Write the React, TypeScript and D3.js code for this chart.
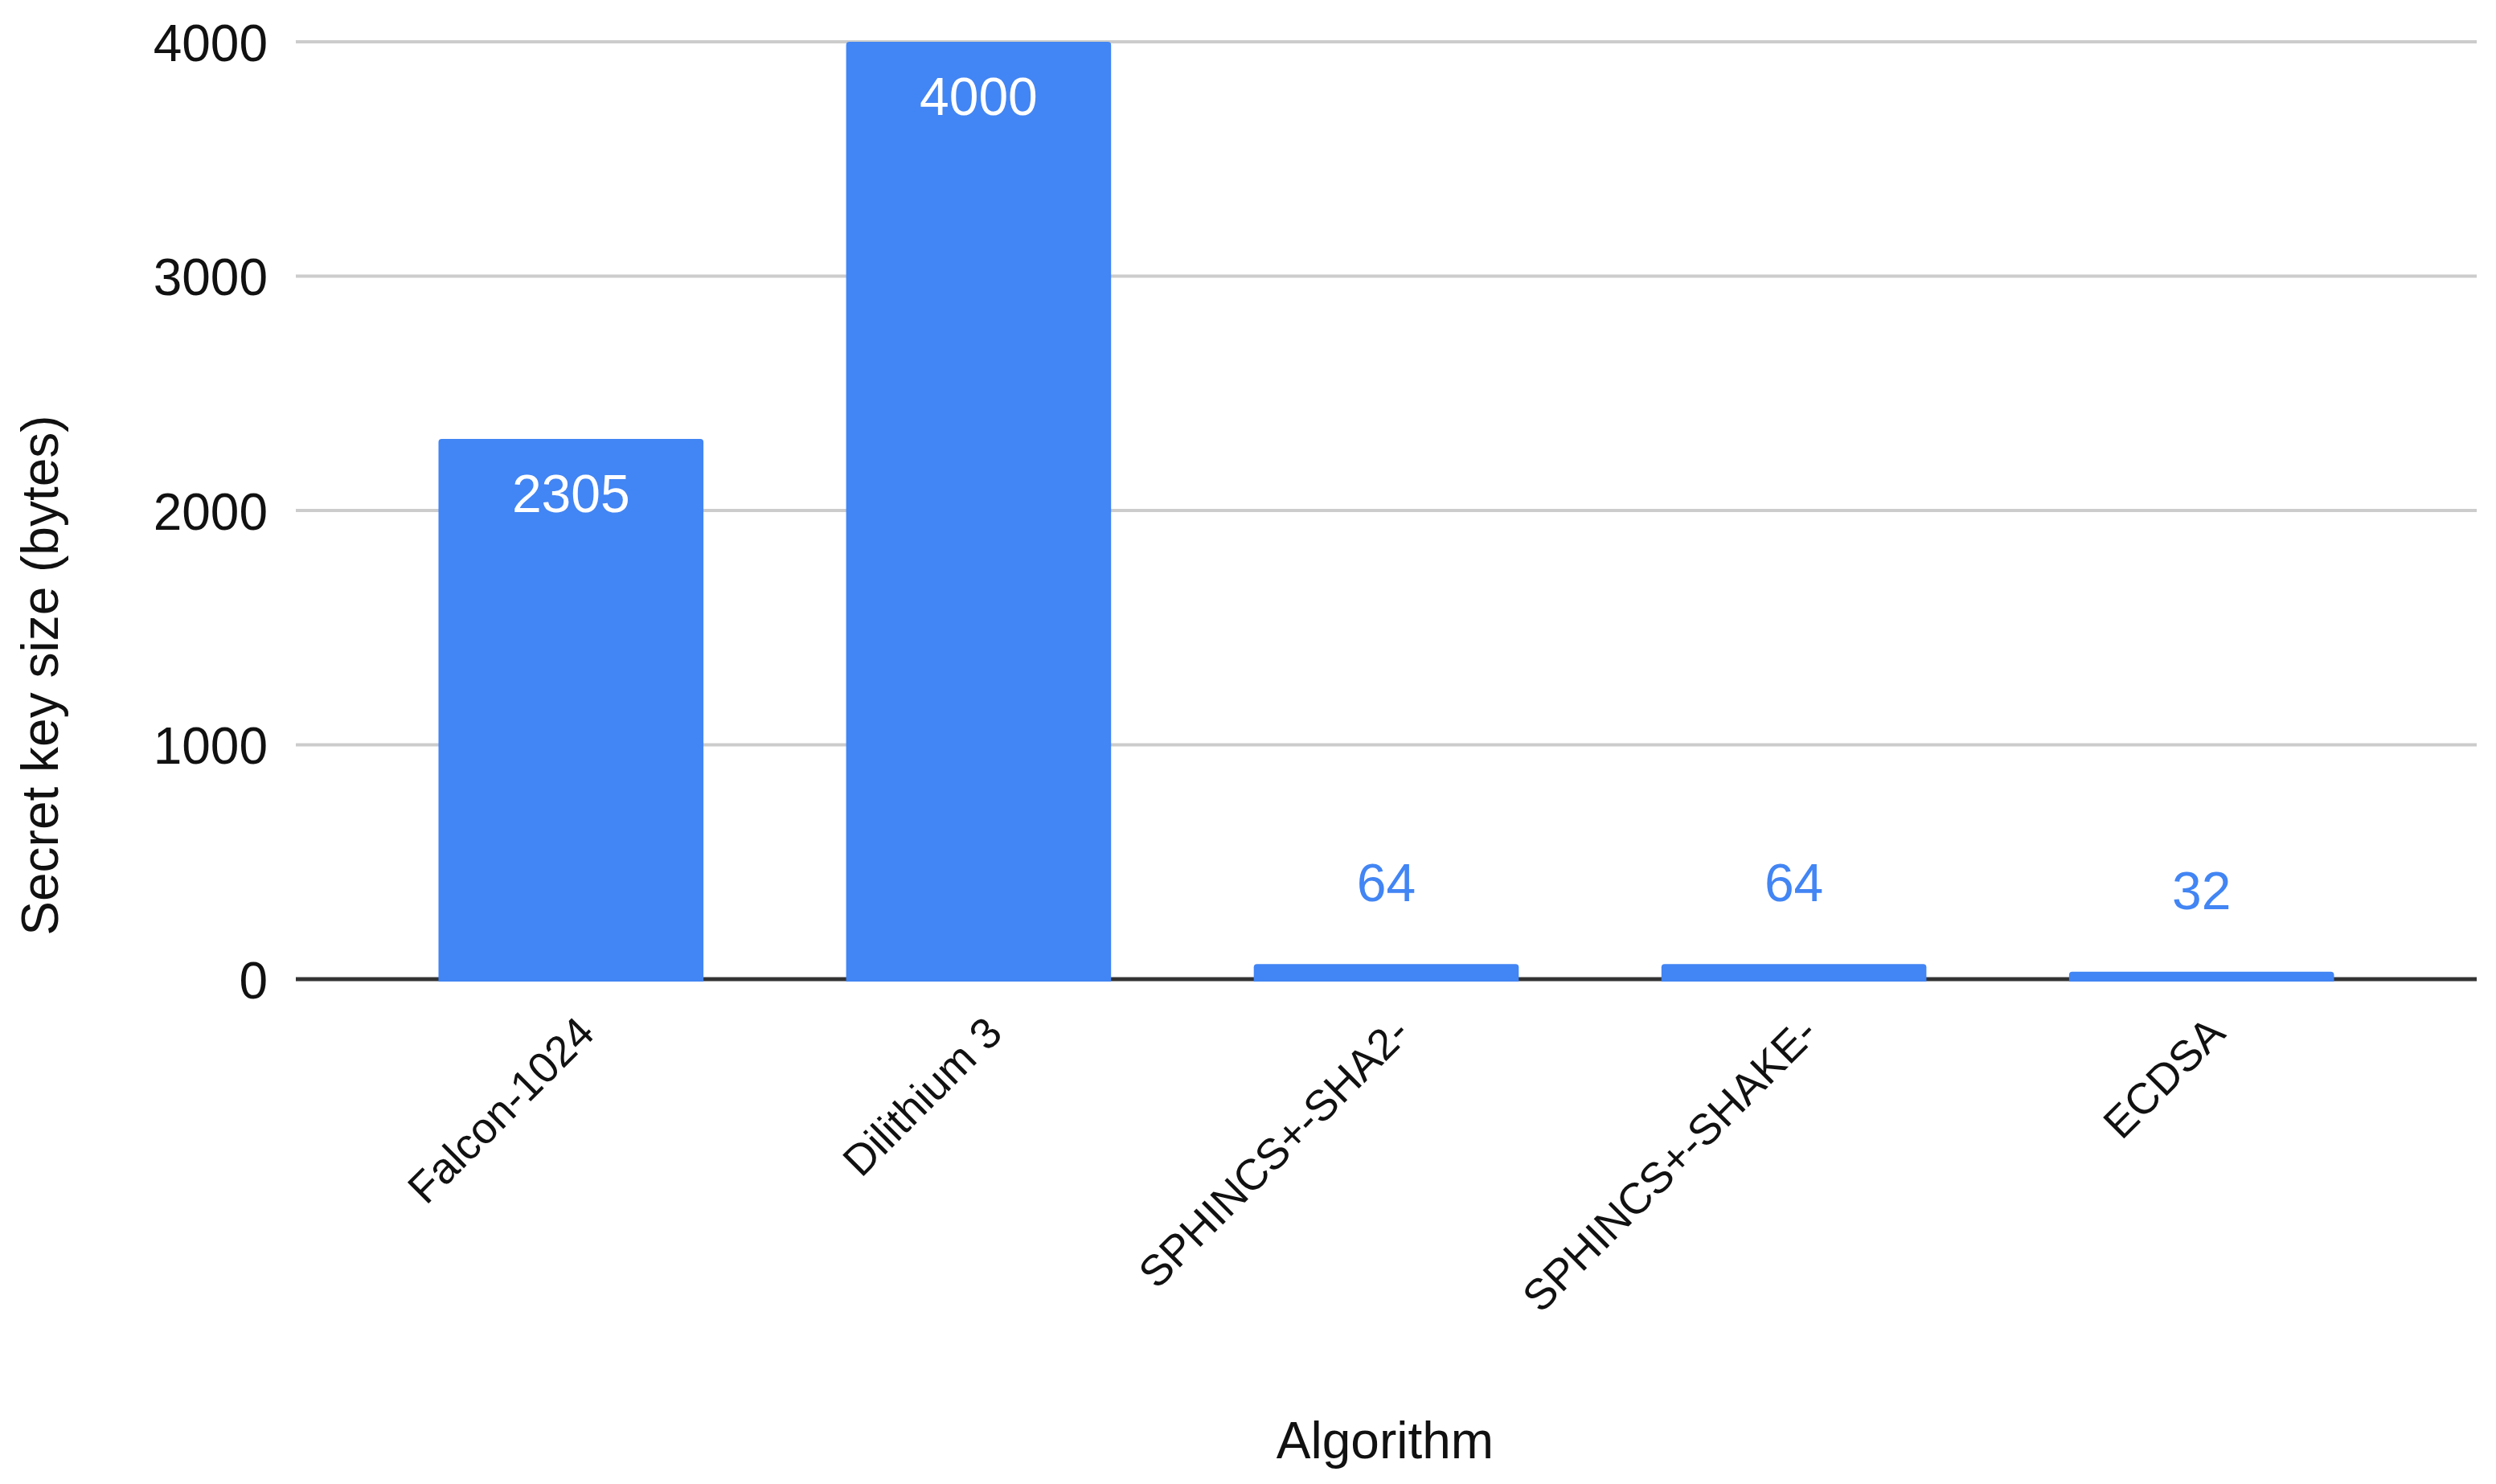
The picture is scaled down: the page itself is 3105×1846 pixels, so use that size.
import React, { useRef, useEffect } from 'react';
import * as d3 from 'd3';

const algorithms = ['Falcon-1024', 'Dilithium 3', 'SPHINCS+-SHA2-', 'SPHINCS+-SHAKE-', 'ECDSA'];
const secretKeyBytes = [2305, 4000, 64, 64, 32];
const yTicks = [0, 1000, 2000, 3000, 4000];

const W = 3105;
const H = 1846;
const FONT = '"Liberation Sans", Arial, Roboto, sans-serif';
const BLUE = '#4285F4';

export default function App() {
  const svgRef = useRef<SVGSVGElement>(null);

  useEffect(() => {
    const svg = d3.select(svgRef.current);
    svg.selectAll('*').remove();

    const data = algorithms.map((name, i) => ({ name, value: secretKeyBytes[i] }));

    const x = d3.scaleBand<string>()
      .domain(algorithms)
      .range([368, 3081])
      .paddingInner(0.35)
      .paddingOuter(0.35);

    const y = d3.scaleLinear()
      .domain([0, 4000])
      .range([1218, 52]);

    // gridlines
    svg.append('g')
      .selectAll('line')
      .data(yTicks.filter(d => d !== 0))
      .join('line')
      .attr('x1', 368)
      .attr('x2', 3081)
      .attr('y1', d => y(d))
      .attr('y2', d => y(d))
      .attr('stroke', '#cccccc')
      .attr('stroke-width', 4);

    // baseline
    svg.append('line')
      .attr('x1', 368)
      .attr('x2', 3081)
      .attr('y1', y(0))
      .attr('y2', y(0))
      .attr('stroke', '#333333')
      .attr('stroke-width', 5);

    // y axis labels
    svg.append('g')
      .attr('transform', 'translate(333,0)')
      .call(d3.axisLeft(y).tickValues(yTicks).tickSize(0).tickPadding(0).tickFormat(d => String(d)))
      .call(g => g.select('.domain').remove())
      .call(g => g.selectAll('.tick text')
        .attr('font-size', 64)
        .attr('font-family', FONT)
        .attr('fill', '#111')
        .attr('dy', '0.36em'));

    // bars, slightly rounded on top
    const r = 4;
    svg.append('g')
      .selectAll('path')
      .data(data)
      .join('path')
      .attr('d', d => {
        const x0 = x(d.name)!;
        const x1 = x0 + x.bandwidth();
        const y0 = y(d.value);
        const yb = y(0) + 3;
        return `M${x0},${yb}V${y0 + r}Q${x0},${y0} ${x0 + r},${y0}H${x1 - r}Q${x1},${y0} ${x1},${y0 + r}V${yb}Z`;
      })
      .attr('fill', BLUE);

    // value labels
    svg.append('g')
      .selectAll('text')
      .data(data)
      .join('text')
      .attr('x', d => x(d.name)! + x.bandwidth() / 2)
      .attr('y', d => d.value > 500 ? y(d.value) + 91 : y(d.value) - 78)
      .attr('text-anchor', 'middle')
      .attr('font-size', 66)
      .attr('font-family', FONT)
      .attr('fill', d => d.value > 500 ? '#ffffff' : BLUE)
      .text(d => String(d.value));

    // x axis labels
    svg.append('g')
      .attr('transform', `translate(0,${y(0)})`)
      .call(d3.axisBottom(x).tickSize(0).tickPadding(0))
      .call(g => g.select('.domain').remove())
      .call(g => g.selectAll('.tick text')
        .attr('x', 0)
        .attr('y', 0)
        .attr('dy', 0)
        .attr('text-anchor', 'end')
        .attr('transform', 'translate(32,70) rotate(-45)')
        .attr('font-size', 54)
        .attr('font-family', FONT)
        .attr('fill', '#111'));

    // axis titles
    svg.append('text')
      .attr('x', 1723)
      .attr('y', 1814)
      .attr('text-anchor', 'middle')
      .attr('font-size', 64)
      .attr('font-family', FONT)
      .attr('fill', '#111')
      .text('Algorithm');

    svg.append('text')
      .attr('transform', 'translate(72,840) rotate(-90)')
      .attr('text-anchor', 'middle')
      .attr('font-size', 64)
      .attr('font-family', FONT)
      .attr('fill', '#111')
      .text('Secret key size (bytes)');
  }, []);

  return (
    <svg
      ref={svgRef}
      width={W}
      height={H}
      style={{ position: 'absolute', left: 0, top: 0, background: '#fff' }}
    />
  );
}
